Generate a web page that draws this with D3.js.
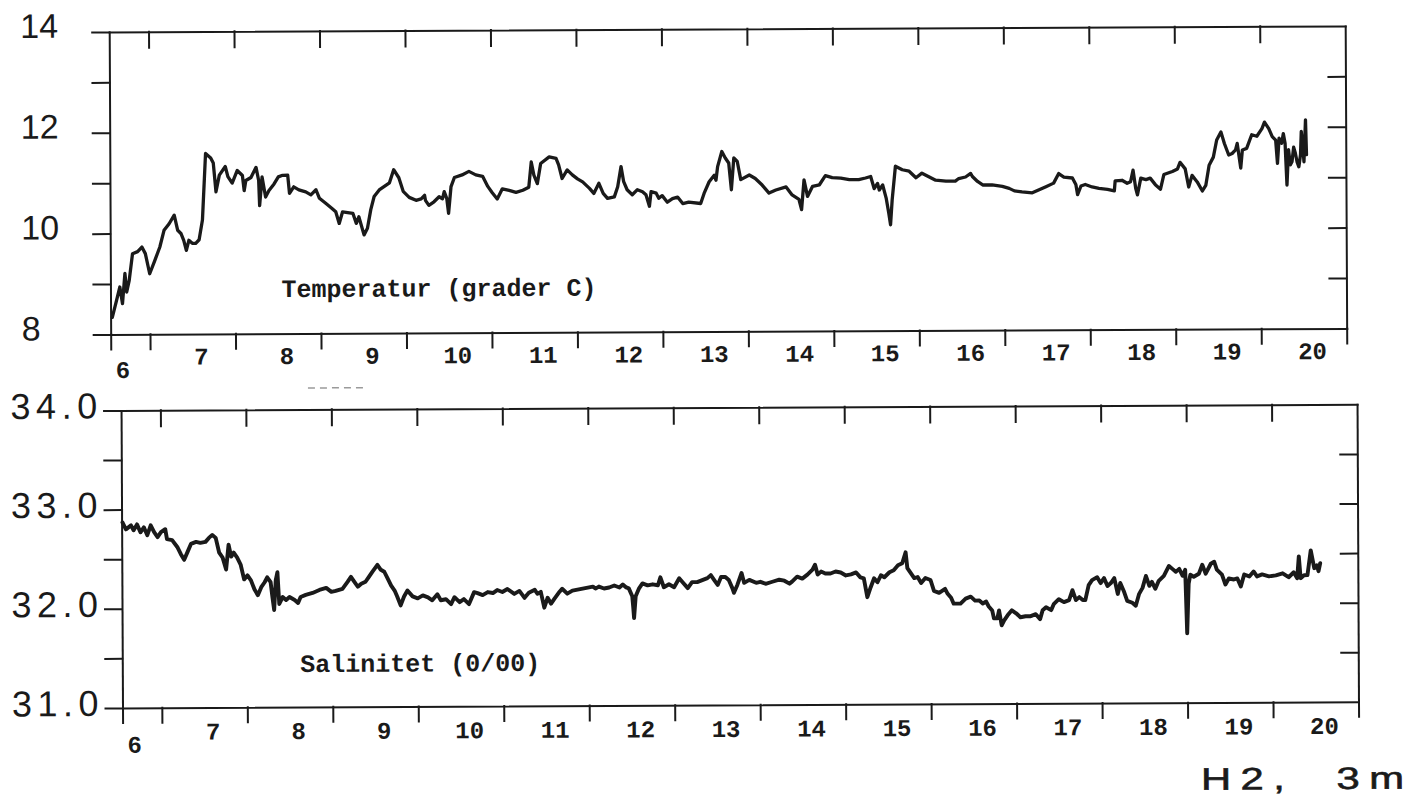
<!DOCTYPE html>
<html>
<head>
<meta charset="utf-8">
<script src="https://cdn.jsdelivr.net/npm/d3@7"></script>
<style>
  html, body { margin: 0; background: #fff; }
  svg { display: block; }
</style>
</head>
<body>
<svg id="chart" width="1428" height="796"></svg>
<script>
// Day ticks (midnight marks) and day labels along both time axes
const dayTicks = [7, 8, 9, 10, 11, 12, 13, 14, 15, 16, 17, 18, 19, 20];
const dayLabels = [6, 7, 8, 9, 10, 11, 12, 13, 14, 15, 16, 17, 18, 19, 20];
const dayDomain = [6.54, 21.0];

// Temperature axis
const tempTicks = [8, 9, 10, 11, 12, 13, 14];
const tempLabels = ["8", "10", "12", "14"];

// Salinity axis
const salTicks = [31, 31.5, 32, 32.5, 33, 33.5, 34];
const salLabels = ["31.0", "32.0", "33.0", "34.0"];

// Temperature record [day, °C]
const temperatureSeries = [
  [6.56,8.34],[6.61,8.67],[6.65,8.94],[6.68,8.61],[6.71,9.21],[6.73,8.84],[6.76,9.07],[6.80,9.60],[6.86,9.64],[6.91,9.73],
  [6.95,9.60],[7.00,9.20],[7.06,9.46],[7.12,9.73],[7.17,10.06],[7.23,10.19],[7.29,10.36],[7.33,10.06],[7.37,9.99],[7.40,9.86],
  [7.43,9.66],[7.46,9.86],[7.50,9.80],[7.54,9.80],[7.58,9.87],[7.62,10.26],[7.66,11.58],[7.72,11.49],[7.75,11.39],[7.78,10.82],
  [7.82,11.15],[7.89,11.32],[7.92,11.12],[7.97,10.99],[8.03,11.24],[8.09,11.14],[8.11,10.84],[8.13,11.04],[8.19,11.10],[8.25,11.30],
  [8.28,11.04],[8.29,10.54],[8.32,11.11],[8.36,10.71],[8.40,10.84],[8.46,10.97],[8.51,11.11],[8.56,11.14],[8.62,11.14],[8.64,10.78],
  [8.69,10.91],[8.75,10.85],[8.83,10.81],[8.89,10.75],[8.95,10.85],[8.99,10.68],[9.07,10.57],[9.14,10.47],[9.18,10.41],[9.22,10.18],
  [9.26,10.41],[9.38,10.38],[9.42,10.18],[9.45,10.31],[9.51,9.95],[9.55,10.08],[9.59,10.45],[9.63,10.71],[9.69,10.84],[9.81,10.98],
  [9.86,11.24],[9.92,11.08],[9.97,10.81],[10.04,10.69],[10.12,10.63],[10.18,10.66],[10.22,10.73],[10.23,10.63],[10.27,10.53],[10.33,10.60],
  [10.39,10.70],[10.43,10.66],[10.45,10.80],[10.48,10.66],[10.50,10.37],[10.53,10.90],[10.57,11.08],[10.66,11.13],[10.74,11.20],[10.82,11.13],
  [10.90,11.10],[10.96,10.90],[11.01,10.78],[11.07,10.65],[11.13,10.85],[11.21,10.82],[11.29,10.78],[11.37,10.82],
  [11.44,10.88],[11.47,11.38],[11.50,11.12],[11.54,10.95],[11.58,11.35],[11.68,11.48],[11.76,11.45],[11.79,11.32],[11.83,11.05],[11.89,11.22],
  [11.95,11.12],[12.01,11.04],[12.07,10.98],[12.15,10.85],[12.20,10.75],[12.26,10.95],[12.31,10.75],[12.36,10.65],[12.44,10.68],[12.48,10.88],
  [12.52,11.28],[12.55,10.98],[12.59,10.82],[12.65,10.72],[12.71,10.82],[12.77,10.78],[12.81,10.72],[12.85,10.49],[12.87,10.78],[12.93,10.75],
  [12.96,10.65],[13.00,10.70],[13.06,10.57],[13.12,10.64],[13.18,10.67],[13.24,10.54],[13.31,10.57],[13.45,10.54],[13.49,10.74],[13.55,10.97],
  [13.61,11.10],[13.63,11.00],[13.65,11.27],[13.70,11.57],[13.74,11.44],[13.78,11.34],[13.81,10.81],[13.84,11.44],[13.88,11.37],[13.92,11.01],
  [14.02,11.10],[14.09,11.03],[14.17,10.90],[14.25,10.74],[14.33,10.80],[14.45,10.86],[14.52,10.70],[14.60,10.61],[14.63,10.41],[14.66,11.00],
  [14.70,10.67],[14.76,10.87],[14.84,10.90],[14.91,11.08],[14.99,11.04],[15.09,11.03],[15.19,11.00],[15.30,11.00],[15.38,11.03],[15.44,11.06],
  [15.48,10.82],[15.52,10.92],[15.54,10.79],[15.58,10.89],[15.62,10.63],[15.65,10.33],[15.67,10.10],[15.69,10.59],[15.73,11.26],[15.81,11.19],
  [15.89,11.16],[15.97,11.03],[16.04,11.12],[16.12,11.05],[16.20,10.98],
  [16.32,10.96],[16.43,10.96],[16.47,11.01],[16.55,11.04],[16.61,11.11],[16.63,11.05],[16.69,10.95],[16.75,10.88],[16.86,10.88],[16.98,10.85],
  [17.06,10.81],[17.12,10.76],[17.21,10.74],[17.33,10.72],[17.41,10.78],[17.49,10.84],[17.58,10.91],[17.64,11.10],[17.70,11.03],[17.80,11.01],
  [17.84,10.88],[17.86,10.68],[17.90,10.85],[17.95,10.88],[18.03,10.83],[18.11,10.80],[18.21,10.78],[18.29,10.75],[18.30,10.95],[18.38,10.96],
  [18.44,10.90],[18.48,10.93],[18.51,11.16],[18.54,10.80],[18.56,10.67],[18.60,11.00],[18.66,10.97],[18.71,11.00],[18.77,10.87],[18.83,10.78],
  [18.87,11.07],[18.97,11.13],[19.03,11.18],[19.06,11.31],[19.12,11.18],[19.16,10.82],[19.20,11.05],[19.26,10.92],[19.32,10.74],[19.36,10.85],
  [19.40,11.25],[19.45,11.41],[19.49,11.75],[19.54,11.91],[19.58,11.68],[19.63,11.45],[19.67,11.48],[19.71,11.55],[19.73,11.68],[19.77,11.19],
  [19.79,11.55],[19.84,11.58],[19.90,11.85],[19.96,11.82],[20.02,11.97],[20.05,12.10],[20.10,11.97],[20.14,11.81],[20.18,11.74],[20.20,11.28],
  [20.22,11.78],[20.25,11.68],[20.27,11.87],[20.29,11.68],[20.31,10.85],[20.33,11.55],[20.35,11.25],[20.37,11.31],[20.39,11.60],[20.41,11.48],
  [20.43,11.30],[20.45,11.21],[20.47,11.45],[20.48,11.91],[20.50,11.55],[20.51,11.31],[20.53,12.14],[20.54,11.45]
];

// Salinity record [day, o/oo]
const salinitySeries = [
  [6.55,32.87],[6.59,32.80],[6.65,32.84],[6.68,32.79],[6.72,32.85],[6.76,32.77],[6.80,32.82],[6.84,32.74],[6.88,32.84],[6.92,32.77],
  [6.96,32.72],[7.00,32.77],[7.05,32.80],[7.07,32.70],[7.13,32.69],[7.19,32.62],[7.23,32.55],[7.27,32.49],[7.31,32.57],[7.35,32.65],
  [7.41,32.67],[7.46,32.66],[7.52,32.67],[7.56,32.71],[7.60,32.74],[7.64,32.71],[7.68,32.56],[7.72,32.51],[7.76,32.39],[7.79,32.64],
  [7.82,32.52],[7.85,32.56],[7.89,32.51],[7.93,32.44],[7.97,32.29],[8.01,32.33],[8.05,32.28],[8.09,32.19],[8.13,32.13],[8.17,32.21],
  [8.21,32.26],[8.24,32.31],[8.28,32.26],[8.30,32.11],[8.32,31.98],[8.34,32.28],[8.36,32.36],[8.38,32.04],[8.42,32.11],[8.46,32.08],
  [8.50,32.11],[8.56,32.08],[8.60,32.05],[8.63,32.11],[8.69,32.13],[8.77,32.15],[8.85,32.18],[8.93,32.20],[8.99,32.16],[9.04,32.17],
  [9.12,32.19],[9.18,32.26],[9.22,32.31],[9.26,32.26],[9.30,32.21],[9.34,32.24],[9.39,32.26],[9.43,32.31],[9.47,32.36],[9.53,32.43],
  [9.57,32.38],[9.61,32.36],[9.65,32.29],[9.69,32.22],[9.73,32.17],[9.76,32.11],[9.80,32.02],[9.84,32.11],[9.88,32.17],[9.94,32.11],
  [10.00,32.09],[10.06,32.12],[10.12,32.10],[10.17,32.07],[10.23,32.13],[10.27,32.07],[10.33,32.08],[10.39,32.03],[10.43,32.10],[10.49,32.05],
  [10.54,32.08],[10.60,32.03],[10.66,32.15],[10.70,32.14],[10.76,32.12],[10.82,32.15],[10.88,32.14],[10.93,32.17],[10.99,32.15],[11.05,32.18],
  [11.13,32.13],[11.19,32.16],[11.25,32.09],[11.30,32.14],[11.37,32.17],
  [11.40,32.13],[11.44,32.15],[11.48,31.99],[11.52,32.09],[11.56,32.03],[11.60,32.08],[11.66,32.15],[11.69,32.18],[11.75,32.13],[11.81,32.16],
  [11.87,32.17],[11.93,32.18],[11.99,32.19],[12.05,32.20],[12.08,32.18],[12.12,32.20],[12.18,32.18],[12.24,32.19],[12.30,32.21],[12.36,32.19],
  [12.40,32.22],[12.44,32.19],[12.47,32.18],[12.51,32.10],[12.52,32.00],[12.53,31.88],[12.55,32.10],[12.59,32.18],[12.63,32.23],[12.69,32.21],
  [12.75,32.22],[12.81,32.21],[12.84,32.29],[12.88,32.19],[12.94,32.22],[13.00,32.19],[13.06,32.28],[13.10,32.24],[13.16,32.18],[13.21,32.24],
  [13.27,32.24],[13.33,32.26],[13.39,32.28],[13.43,32.31],[13.47,32.26],[13.51,32.21],[13.55,32.29],[13.60,32.29],[13.64,32.26],[13.68,32.18],
  [13.70,32.13],[13.74,32.21],[13.79,32.33],[13.82,32.23],[13.88,32.26],[13.96,32.23],[14.01,32.24],[14.07,32.22],[14.15,32.24],[14.23,32.26],
  [14.29,32.25],[14.35,32.22],[14.38,32.24],[14.44,32.29],[14.50,32.27],[14.56,32.31],[14.62,32.36],[14.65,32.41],[14.68,32.31],[14.72,32.34],
  [14.77,32.32],[14.83,32.32],[14.89,32.34],[14.95,32.33],[15.01,32.30],[15.07,32.31],[15.13,32.33],[15.18,32.28],[15.22,32.27],[15.26,32.08],
  [15.30,32.18],[15.34,32.27],[15.38,32.23],[15.42,32.30],[15.46,32.28],[15.52,32.33],[15.57,32.35],[15.62,32.40],[15.67,32.42],[15.71,32.53],
  [15.73,32.37],[15.77,32.32],[15.81,32.27],[15.85,32.28],[15.89,32.22],[15.94,32.27],[16.00,32.25],[16.04,32.14],[16.10,32.12],[16.17,32.16],
  [16.20,32.11],[16.24,32.07],[16.27,32.01],[16.35,32.01],[16.41,32.06],[16.47,32.08],[16.52,32.04],[16.57,32.04],[16.61,32.01],[16.65,32.03],
  [16.68,31.98],[16.72,31.94],[16.74,31.86],[16.78,31.86],[16.80,31.94],[16.83,31.79],[16.86,31.84],[16.90,31.89],[16.95,31.94],[17.00,31.91],
  [17.05,31.87],[17.11,31.88],[17.17,31.88],[17.23,31.90],[17.28,31.85],[17.31,31.94],[17.35,31.97],[17.41,31.94],[17.44,32.00],[17.50,32.05],
  [17.56,32.02],[17.62,32.04],[17.66,32.14],[17.70,32.04],[17.74,32.07],[17.78,32.04],[17.81,32.04],[17.85,32.19],[17.89,32.24],[17.95,32.27],
  [17.99,32.21],[18.03,32.26],[18.07,32.18],[18.11,32.21],[18.15,32.26],[18.19,32.10],[18.22,32.21],[18.26,32.13],[18.30,32.03],[18.36,32.01],
  [18.40,31.98],[18.44,32.10],[18.48,32.16],[18.52,32.28],[18.56,32.18],[18.59,32.22],[18.63,32.15],[18.67,32.23],[18.73,32.28],[18.79,32.38],
  [18.83,32.35],[18.87,32.32],[18.91,32.35],[18.95,32.28],[18.98,32.34],[19.00,31.70],[19.02,32.20],[19.04,32.29],[19.08,32.27],[19.14,32.30],
  [19.18,32.39],[19.22,32.30],[19.28,32.40],[19.32,32.42],[19.35,32.34],[19.41,32.29],[19.45,32.19],[19.49,32.25],[19.55,32.24],[19.59,32.25],
  [19.63,32.17],[19.67,32.29],[19.73,32.27],[19.78,32.32],[19.82,32.27],[19.88,32.29],[19.96,32.27],[20.04,32.28],[20.12,32.30],[20.19,32.26],
  [20.25,32.31],[20.29,32.25],[20.31,32.47],[20.33,32.25],[20.37,32.28],[20.41,32.28],[20.45,32.53],[20.49,32.35],[20.52,32.38],[20.54,32.32],
  [20.56,32.40]
];

const INK = "#1a1a1a";
const svg = d3.select("#chart");
// The whole sheet sits at a slight tilt
const sheet = svg.append("g").attr("transform", "rotate(-0.28 714 398)");

const panels = [
  {
    series: temperatureSeries,
    x: d3.scaleLinear().domain(dayDomain).range([111, 1347]),
    y: d3.scaleLinear().domain([8, 14]).range([331.5, 29]),
    yTicks: tempTicks,
    yLabels: tempLabels,
    yLabelX: 22,
    yLabelFont: 34,
    yLabelSpacing: 0,
    yLabelDy: 5.5,
    dayLabelY: 362,
    firstDayLabelY: 375,
    seriesName: "Temperatur (grader C)",
    nameX: 282, nameY: 295,
    lineWidth: 3.3
  },
  {
    series: salinitySeries,
    x: d3.scaleLinear().domain(dayDomain).range([121, 1357]),
    y: d3.scaleLinear().domain([31, 34]).range([705, 407.5]),
    yTicks: salTicks,
    yLabels: salLabels,
    yLabelX: 10.5,
    yLabelFont: 36,
    yLabelSpacing: 5.5,
    yLabelDy: 8,
    dayLabelY: 737,
    firstDayLabelY: 750,
    seriesName: "Salinitet (0/00)",
    nameX: 299, nameY: 670,
    lineWidth: 3.9
  }
];

function styleAxis(g) {
  g.selectAll("text").remove();
  g.selectAll("path.domain, line")
    .attr("stroke", INK)
    .attr("stroke-width", 2)
    .attr("stroke-linecap", "square");
}

panels.forEach(p => {
  const g = sheet.append("g");
  const [x0, x1] = p.x.range();
  const [yb, yt] = p.y.range();

  // Frame: left axis with outward ticks
  g.append("g").attr("transform", `translate(${x0},0)`)
    .call(d3.axisLeft(p.y).tickValues(p.yTicks).tickSize(17).tickSizeOuter(0).tickFormat(""))
    .call(styleAxis);
  // Right edge with inward ticks
  g.append("g").attr("transform", `translate(${x1},0)`)
    .call(d3.axisLeft(p.y).tickValues(p.yTicks.slice(1, -1)).tickSize(17).tickSizeOuter(0).tickFormat(""))
    .call(styleAxis);
  // Top edge with inward ticks
  g.append("g").attr("transform", `translate(0,${yt})`)
    .call(d3.axisTop(p.x).tickValues(dayTicks).tickSize(-16).tickSizeOuter(0).tickFormat(""))
    .call(styleAxis);
  // Bottom time axis with outward ticks, including both ends
  g.append("g").attr("transform", `translate(0,${yb})`)
    .call(d3.axisBottom(p.x).tickValues([dayDomain[0], ...dayTicks, dayDomain[1]]).tickSize(15).tickSizeOuter(0).tickFormat(""))
    .call(styleAxis);

  // Value labels on the left
  g.append("g").selectAll("text")
    .data(p.yLabels)
    .join("text")
    .attr("x", p.yLabelX)
    .attr("y", d => p.y(+d) + p.yLabelDy)
    .attr("font-family", "'Liberation Sans', Arial, sans-serif")
    .attr("font-size", p.yLabelFont)
    .attr("letter-spacing", p.yLabelSpacing)
    .attr("fill", INK)
    .text(d => d);

  // Day labels centred inside each day
  g.append("g").selectAll("text")
    .data(dayLabels)
    .join("text")
    .attr("x", d => d === 6 ? p.x(6.68) : p.x(d + 0.6))
    .attr("y", d => d === 6 ? p.firstDayLabelY : p.dayLabelY)
    .attr("text-anchor", "middle")
    .attr("font-family", "'Liberation Mono', monospace")
    .attr("font-weight", "bold")
    .attr("font-size", 24)
    .attr("fill", INK)
    .text(d => d);

  // Series name
  g.append("text")
    .attr("x", p.nameX)
    .attr("y", p.nameY)
    .attr("font-family", "'Liberation Mono', monospace")
    .attr("font-weight", "bold")
    .attr("font-size", 25)
    .attr("fill", INK)
    .text(p.seriesName);

  // Trace
  g.append("path")
    .datum(p.series)
    .attr("fill", "none")
    .attr("stroke", INK)
    .attr("stroke-width", p.lineWidth)
    .attr("stroke-linejoin", "round")
    .attr("stroke-linecap", "round")
    .attr("d", d3.line().x(d => p.x(d[0])).y(d => p.y(d[1])));
});

// Faint dashed mark between the panels
sheet.append("line")
  .attr("x1", 308).attr("x2", 366)
  .attr("y1", 386).attr("y2", 386)
  .attr("stroke", "#9a9a9a")
  .attr("stroke-width", 1.5)
  .attr("stroke-dasharray", "7,5");

// Station tag, drawn in a wide lettering
sheet.append("text")
  .attr("transform", "translate(1199,792) scale(1.35,1)")
  .attr("font-family", "'Liberation Sans', Arial, sans-serif")
  .attr("font-size", 31)
  .attr("letter-spacing", 7)
  .attr("stroke", INK)
  .attr("stroke-width", 0.6)
  .attr("fill", INK)
  .text("H2,\u00a0\u00a03m");
</script>
</body>
</html>
